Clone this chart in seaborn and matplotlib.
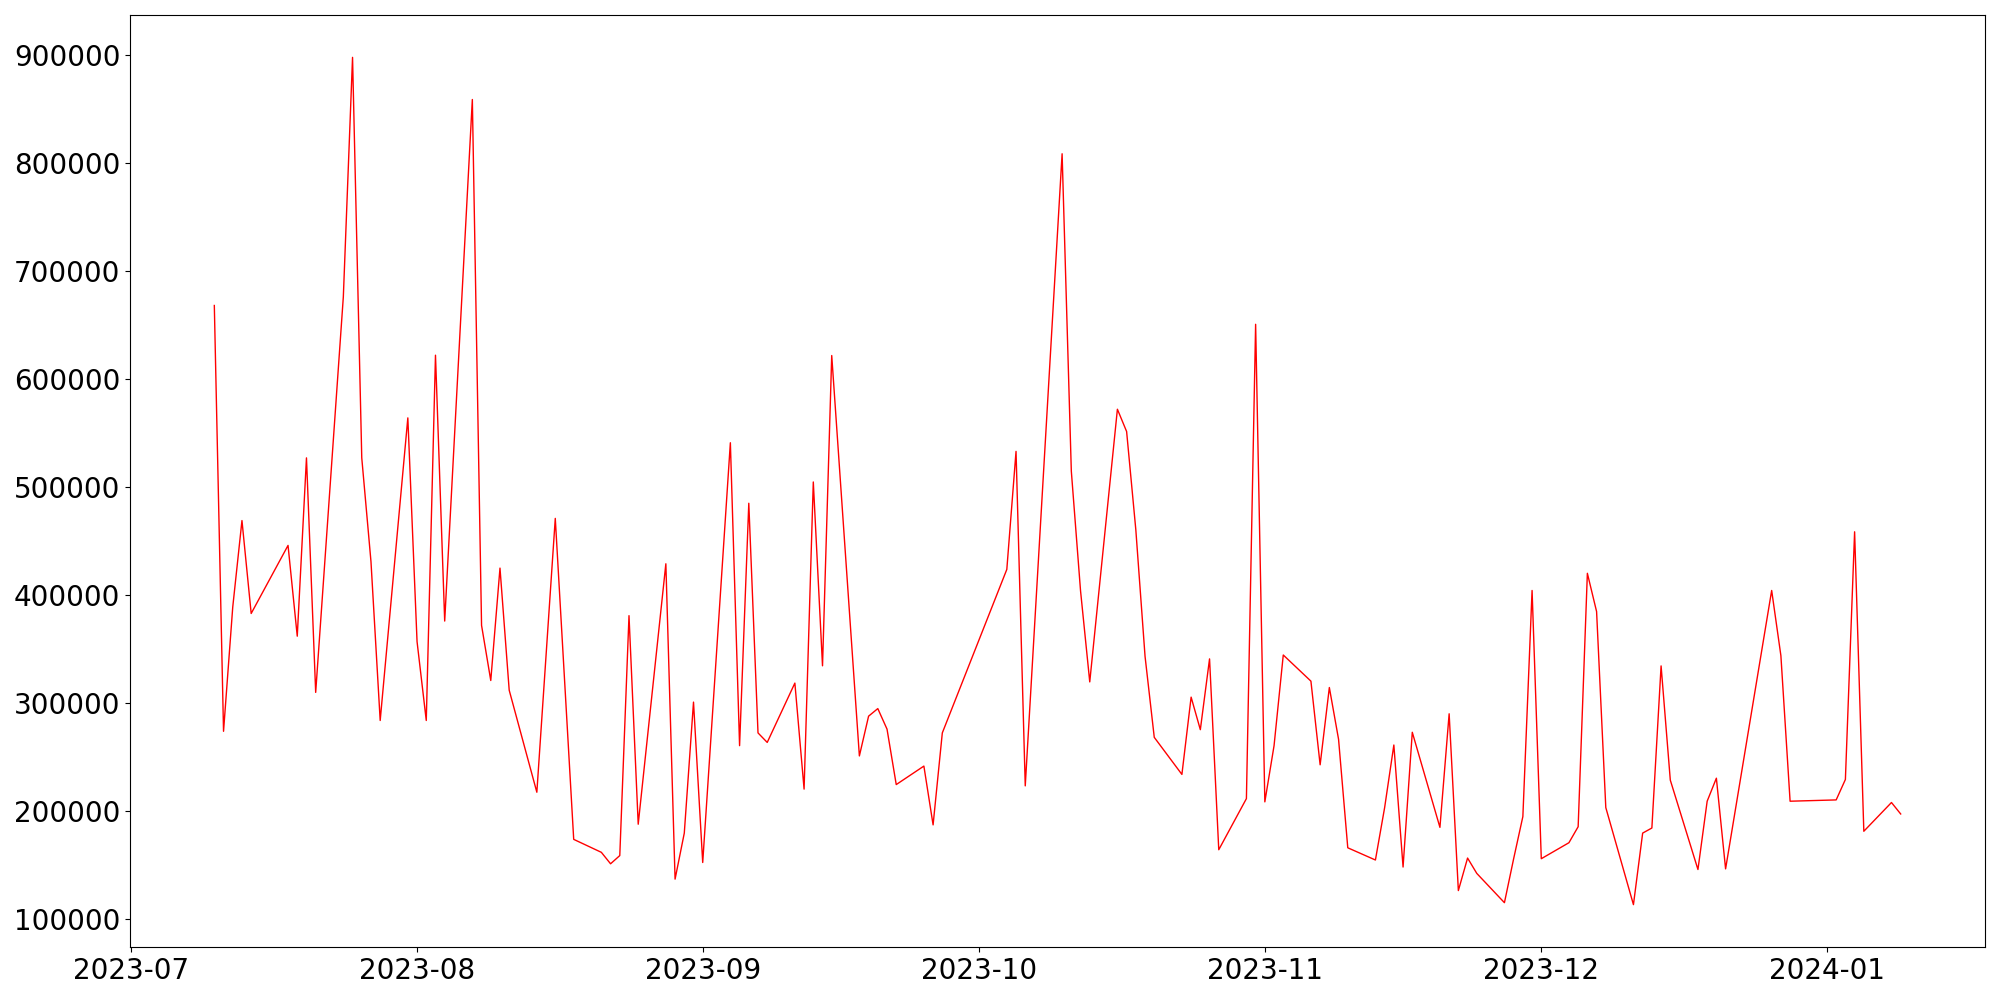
import matplotlib
matplotlib.use("Agg")
import matplotlib.pyplot as plt
import seaborn as sns
import pandas as pd

dates = [
    "2023-07-10", "2023-07-11", "2023-07-12", "2023-07-13", "2023-07-14",
    "2023-07-18", "2023-07-19", "2023-07-20", "2023-07-21", "2023-07-24",
    "2023-07-25", "2023-07-26", "2023-07-27", "2023-07-28", "2023-07-31",
    "2023-08-01", "2023-08-02", "2023-08-03", "2023-08-04", "2023-08-07",
    "2023-08-08", "2023-08-09", "2023-08-10", "2023-08-11", "2023-08-14",
    "2023-08-16", "2023-08-18", "2023-08-21", "2023-08-22", "2023-08-23",
    "2023-08-24", "2023-08-25", "2023-08-28", "2023-08-29", "2023-08-30",
    "2023-08-31", "2023-09-01", "2023-09-04", "2023-09-05", "2023-09-06",
    "2023-09-07", "2023-09-08", "2023-09-11", "2023-09-12", "2023-09-13",
    "2023-09-14", "2023-09-15", "2023-09-18", "2023-09-19", "2023-09-20",
    "2023-09-21", "2023-09-22", "2023-09-25", "2023-09-26", "2023-09-27",
    "2023-10-04", "2023-10-05", "2023-10-06", "2023-10-10", "2023-10-11",
    "2023-10-12", "2023-10-13", "2023-10-16", "2023-10-17", "2023-10-18",
    "2023-10-19", "2023-10-20", "2023-10-23", "2023-10-24", "2023-10-25",
    "2023-10-26", "2023-10-27", "2023-10-30", "2023-10-31", "2023-11-01",
    "2023-11-02", "2023-11-03", "2023-11-06", "2023-11-07", "2023-11-08",
    "2023-11-09", "2023-11-10", "2023-11-13", "2023-11-14", "2023-11-15",
    "2023-11-16", "2023-11-17", "2023-11-20", "2023-11-21", "2023-11-22",
    "2023-11-23", "2023-11-24", "2023-11-27", "2023-11-28", "2023-11-29",
    "2023-11-30", "2023-12-01", "2023-12-04", "2023-12-05", "2023-12-06",
    "2023-12-07", "2023-12-08", "2023-12-11", "2023-12-12", "2023-12-13",
    "2023-12-14", "2023-12-15", "2023-12-18", "2023-12-19", "2023-12-20",
    "2023-12-21", "2023-12-26", "2023-12-27", "2023-12-28", "2024-01-02",
    "2024-01-03", "2024-01-04", "2024-01-05", "2024-01-08", "2024-01-09",
]

values = [
    668000, 274000, 389000, 469000, 383000,
    446000, 362000, 527000, 310000, 676000,
    897600, 527000, 431000, 284000, 564000,
    357000, 284000, 622000, 376000, 858600,
    372000, 321000, 425000, 312000, 217600,
    471000, 174000, 162000, 151400, 159000,
    381000, 188000, 429000, 137200, 179800,
    301000, 152600, 541000, 260700, 485000,
    272500, 263700, 318600, 220500, 504700,
    334600, 621700, 251200, 288000, 295000,
    276000, 224700, 241800, 187400, 272500,
    423800, 533000, 223500, 808400, 514700,
    404000, 319700, 572000, 551400, 460400,
    343400, 268400, 234100, 305600, 275500,
    341000, 164400, 211700, 650600, 208700,
    260700, 344600, 320400, 243000, 314500,
    266600, 166200, 154900, 203400, 261300,
    148400, 273100, 185100, 290200, 126600,
    156700, 142500, 115400, 156100, 195100,
    404300, 156100, 170900, 185700, 420200,
    384800, 203400, 113600, 179800, 184500,
    334500, 228800, 146100, 209300, 230600,
    146700, 404300, 344000, 209300, 210500,
    229400, 458600, 181500, 208100, 197500,
]

df = pd.DataFrame({"date": pd.to_datetime(dates), "value": values})

fig, ax = plt.subplots(figsize=(20, 10), dpi=100)
sns.lineplot(data=df, x="date", y="value", color="red", linewidth=1, ax=ax)
ax.set_xlabel("")
ax.set_ylabel("")
ax.tick_params(axis="both", labelsize=20)
fig.subplots_adjust(left=0.065, right=0.9925, bottom=0.053, top=0.985)
fig.savefig("out.png", dpi=100)
